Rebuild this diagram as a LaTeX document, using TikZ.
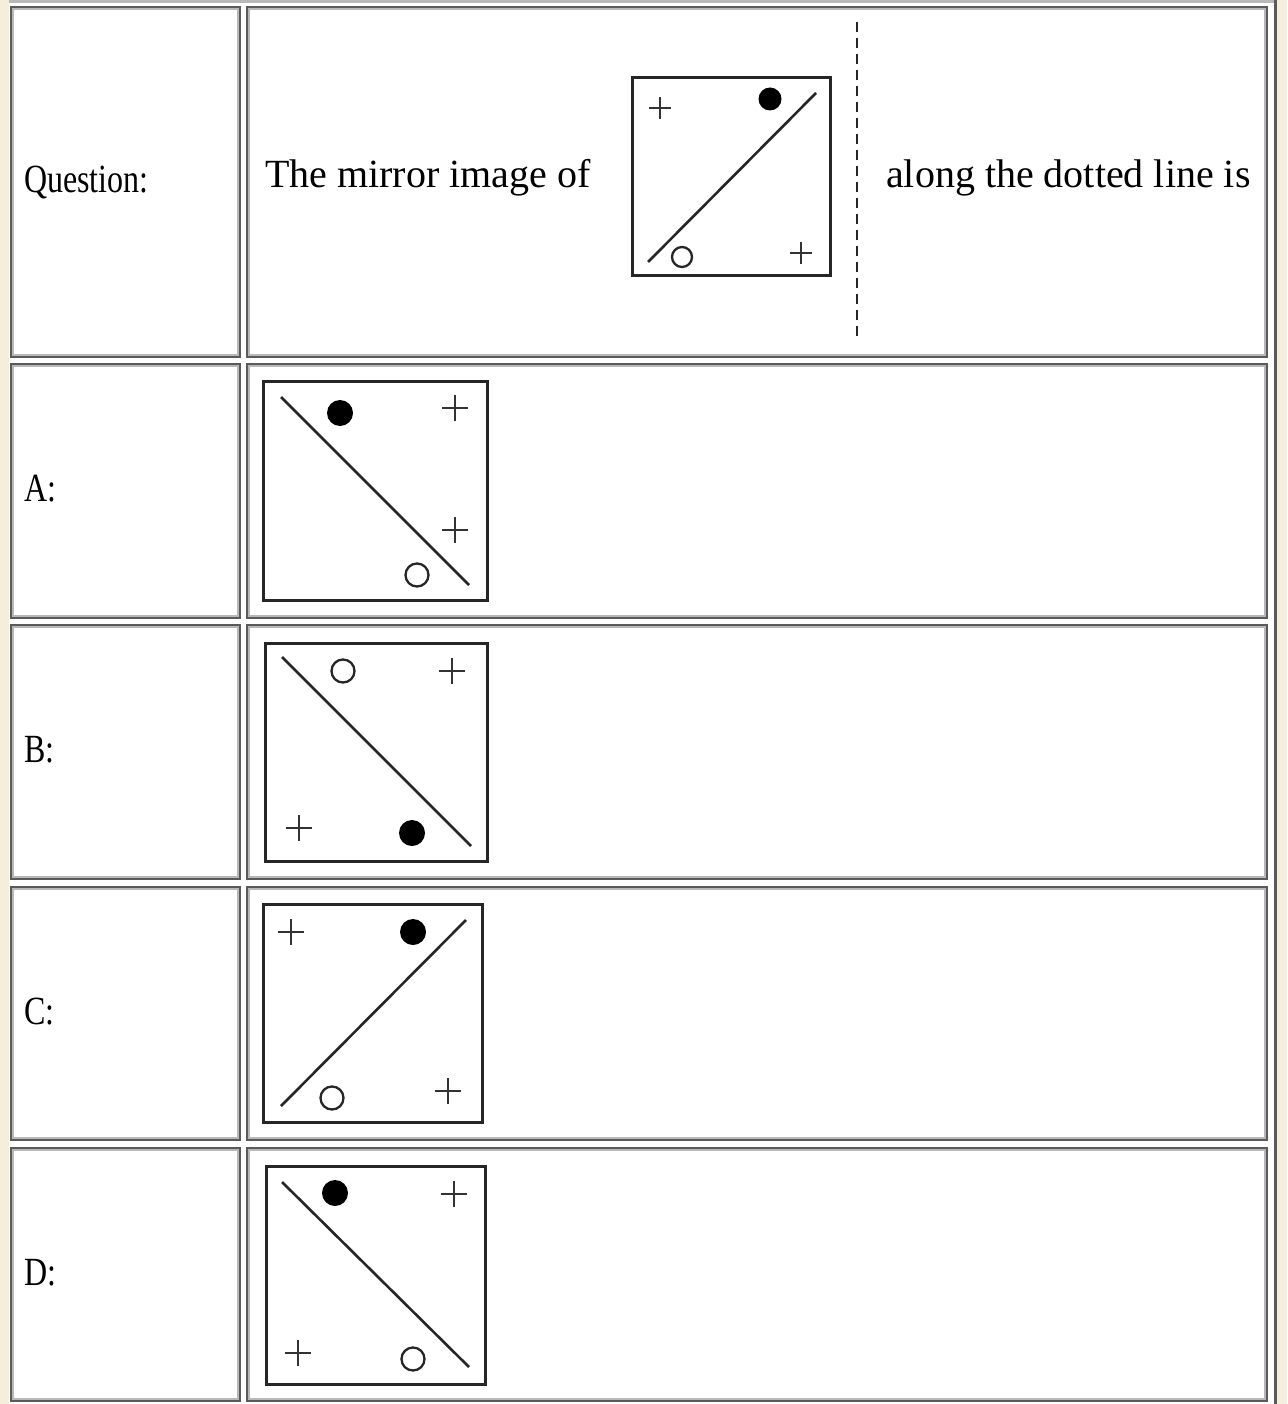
\documentclass[tikz,border=0pt]{standalone}
\usepackage{fontspec}
\setmainfont{Liberation Serif}
\definecolor{cream}{HTML}{F5EEDD}
\definecolor{celldark}{HTML}{5A5A5A}
\definecolor{celllight}{HTML}{B8B8B8}
\tikzset{
  cellbox/.style={draw=celldark, line width=2.2},
  cellin/.style={draw=celllight, line width=1.6},
  frame/.style={draw=black!85, line width=3},
  diag/.style={draw=black!85, line width=2.6},
  dot/.style={fill=black},
  ring/.style={draw=black!85, line width=2.3},
  pls/.pic={\draw[black!80, line width=2] (-#1,0) -- (#1,0) (0,-#1) -- (0,#1);},
  txt/.style={anchor=base west, inner sep=0, font=\fontsize{40}{48}\selectfont},
  lbl/.style={anchor=base west, inner sep=0, font=\fontsize{40}{48}\selectfont}
}
\newcommand\mycell[4]{%
  \draw[cellbox] (#1,#2) rectangle (#3,#4);
  \draw[cellin] (#1+2,#2+2) rectangle (#3-2,#4-2);}
\begin{document}
\begin{tikzpicture}[x=1pt, y=-1pt]
\useasboundingbox (0,0) rectangle (1287,1404);
\fill[cream] (0,0) rectangle (1287,1404);
\fill[white] (9,0) rectangle (1276,1404);
% outer table border
\draw[celllight, line width=3] (9,1.5) -- (1276,1.5);
\draw[celldark, line width=3] (1275.5,0) -- (1275.5,1404);
% cells
\mycell{11}{7}{240}{357}
\mycell{247}{7}{1267}{357}
\mycell{11}{364}{240}{618}
\mycell{247}{364}{1267}{618}
\mycell{11}{625}{240}{879}
\mycell{247}{625}{1267}{879}
\mycell{11}{887}{240}{1140}
\mycell{247}{887}{1267}{1140}
\mycell{11}{1148}{240}{1401}
\mycell{247}{1148}{1267}{1401}
% labels
\node[lbl] (lq) at (24,193) {\scalebox{0.8}[1]{Question:}};
\node[lbl] (la) at (24,501) {\scalebox{0.8}[1]{A:}};
\node[lbl] (lb) at (24,762) {\scalebox{0.8}[1]{B:}};
\node[lbl] (lc) at (24,1024) {\scalebox{0.8}[1]{C:}};
\node[lbl] (ld) at (24,1285) {\scalebox{0.8}[1]{D:}};
% question text
\node[txt] (t1) at (265,188) {The mirror image of};
\node[txt] (t2) at (886,188) {along the dotted line is};
% question figure
\draw[frame] (632,78) rectangle (830,276);
\draw[diag] (648,262) -- (816,93);
\fill[dot] (770,99) circle (11.5);
\draw[ring] (682,257) circle (10);
\pic at (660,108) {pls=11};
\pic at (801,253) {pls=11};
\draw[black!85, line width=1.8, dash pattern=on 10pt off 6pt] (857,22) -- (857,338);
% option A
\draw[frame] (263,381) rectangle (487,600);
\draw[diag] (281,397) -- (469,585);
\fill[dot] (340,413) circle (13);
\draw[ring] (417,575) circle (11.5);
\pic at (455,408) {pls=13};
\pic at (455,530) {pls=13};
% option B
\draw[frame] (265,643) rectangle (487,861);
\draw[diag] (282,657) -- (471,846);
\draw[ring] (343,671) circle (11.5);
\fill[dot] (412,833) circle (13);
\pic at (452,671) {pls=13};
\pic at (299,828) {pls=13};
% option C
\draw[frame] (263,904) rectangle (482,1122);
\draw[diag] (281,1106) -- (466,920);
\fill[dot] (413,932) circle (13);
\draw[ring] (332,1098) circle (11.5);
\pic at (291,932) {pls=13};
\pic at (448,1091) {pls=13};
% option D
\draw[frame] (266,1166) rectangle (485,1384);
\draw[diag] (282,1182) -- (469,1367);
\fill[dot] (335,1193) circle (13);
\draw[ring] (413,1359) circle (11.5);
\pic at (454,1194) {pls=13};
\pic at (298,1353) {pls=13};
\end{tikzpicture}
\end{document}
